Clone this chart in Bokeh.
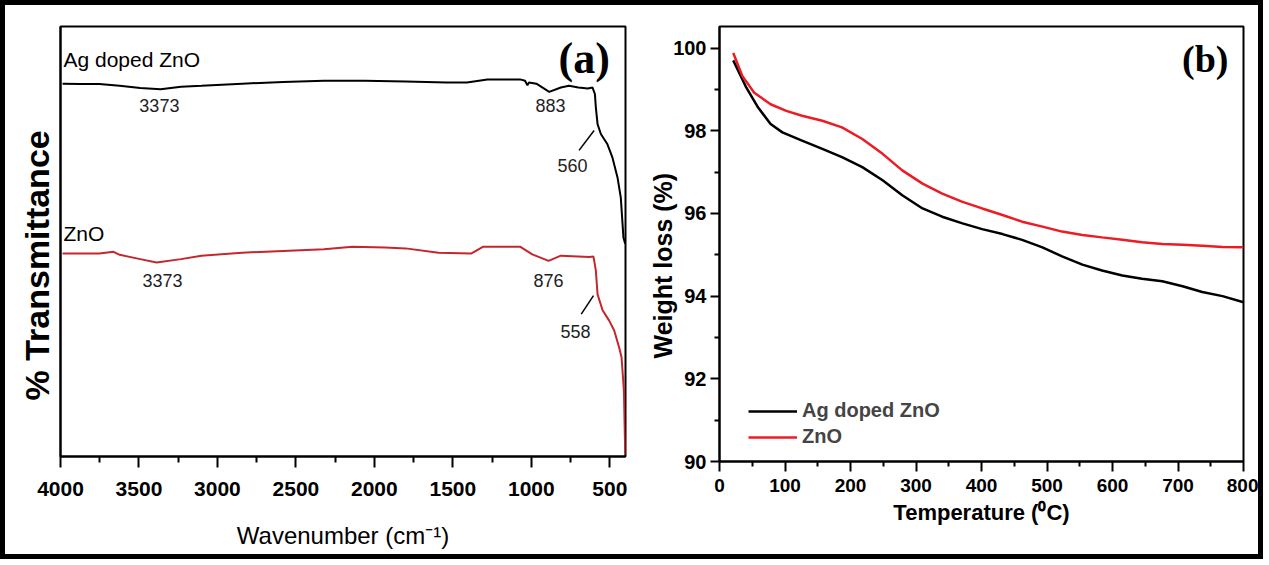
from bokeh.plotting import figure
from bokeh.layouts import row
from bokeh.models import Range1d, FixedTicker, Legend, LegendItem, Label, Title
from bokeh.core.properties import value
from bokeh.embed import file_html
from bokeh.resources import INLINE

# ---------------- (a) FTIR data ----------------
ftir_ag_wn = [3987, 3870, 3753, 3623, 3492, 3362, 3232, 3102, 2842, 2581, 2321, 2061,
              1801, 1540, 1410, 1280, 1072, 1040, 1025, 1015, 968, 886, 812, 760,
              700, 640, 610, 595, 589, 578, 557, 515, 483, 451, 430, 413, 402]
ftir_ag_t = [86.7, 86.6, 86.6, 86.2, 85.7, 85.4, 86.0, 86.2, 86.7, 87.1, 87.4, 87.4,
             87.2, 87.0, 87.0, 87.7, 87.7, 87.4, 86.3, 87.0, 86.7, 84.8, 85.8, 86.2,
             85.8, 85.6, 85.8, 84.3, 81.2, 77.3, 75.0, 72.6, 69.5, 64.9, 60.2, 50.9, 49.5]

ftir_zno_wn = [3987, 3753, 3662, 3623, 3492, 3388, 3232, 3102, 2842, 2581, 2321, 2139,
               1931, 1801, 1592, 1384, 1306, 1072, 994, 890, 812, 630, 604, 589,
               578, 546, 504, 472, 440, 425, 410, 404, 401]
ftir_zno_t = [47.2, 47.2, 47.6, 46.9, 45.9, 45.1, 45.9, 46.7, 47.4, 47.8, 48.2, 48.8,
              48.6, 48.4, 47.4, 47.2, 48.8, 48.8, 47.0, 45.5, 46.7, 46.4, 46.5, 43.3,
              37.7, 34.0, 31.6, 29.3, 25.3, 23.0, 15.3, 4.4, 0.5]

ftir_ticks = [4000, 3500, 3000, 2500, 2000, 1500, 1000, 500]
ftir_minor = [3750, 3250, 2750, 2250, 1750, 1250, 750]

peak_text = ["3373", "883", "560", "3373", "876", "558"]
peak_wn = [3370, 878, 738, 3350, 890, 718]
peak_t = [81.6, 81.6, 67.7, 40.9, 40.9, 29.1]

arrow_wn0 = [696, 682]
arrow_t0 = [71.2, 33.1]
arrow_wn1 = [600, 604]
arrow_t1 = [75.8, 37.4]

series_text = ["Ag doped ZnO", "ZnO"]
series_wn = [3981, 3981]
series_t = [92.3, 51.9]

# ---------------- (b) TGA data ----------------
tga_ag_temp = [21, 41, 59, 78, 96, 126, 157, 187, 218, 249, 279, 310, 340, 371,
               401, 432, 462, 493, 523, 554, 584, 615, 645, 676, 707, 737, 768, 800]
tga_ag_w = [99.70, 99.04, 98.56, 98.16, 97.96, 97.76, 97.56, 97.36, 97.12, 96.80,
            96.44, 96.12, 95.92, 95.76, 95.62, 95.50, 95.36, 95.18, 94.96, 94.76,
            94.62, 94.50, 94.42, 94.36, 94.24, 94.10, 94.00, 93.85]
tga_zno_temp = [21, 35, 53, 78, 102, 126, 157, 187, 218, 249, 279, 310, 340, 371,
                401, 432, 462, 493, 523, 554, 584, 615, 645, 676, 707, 737, 768, 800]
tga_zno_w = [99.88, 99.32, 98.92, 98.64, 98.48, 98.36, 98.24, 98.08, 97.80, 97.44,
             97.04, 96.72, 96.48, 96.28, 96.12, 95.96, 95.80, 95.68, 95.56, 95.48,
             95.42, 95.36, 95.30, 95.26, 95.24, 95.22, 95.19, 95.18]
tga_xticks = [0, 100, 200, 300, 400, 500, 600, 700, 800]
tga_xminor = [50, 150, 250, 350, 450, 550, 650, 750]
tga_yticks = [90, 92, 94, 96, 98, 100]
tga_yminor = [91, 93, 95, 97, 99]

SANS = "'Liberation Sans', Arial, sans-serif"
SERIF = "'Liberation Serif', 'Times New Roman', serif"
RED_A = "#c4262c"
RED_B = "#ec1c24"


def style_axes(p):
    p.grid.visible = False
    p.outline_line_color = "black"
    p.outline_line_width = 2
    p.background_fill_color = "white"
    p.border_fill_color = "white"
    for ax in (p.xaxis[0], p.yaxis[0]):
        ax.axis_line_width = 2
        ax.axis_line_color = "black"
        ax.major_tick_line_width = 2
        ax.minor_tick_line_width = 2
        ax.major_tick_in = 0
        ax.minor_tick_in = 0
        ax.major_label_text_color = "black"
        ax.axis_label_text_color = "black"
        ax.axis_label_text_font_style = "normal"


# ---------------- panel (a) ----------------
p1 = figure(frame_width=565, frame_height=430, x_range=Range1d(4000, 400),
            y_range=Range1d(0, 100), output_backend="svg", toolbar_location=None,
            min_border_left=55, min_border_right=12, min_border_top=21,
            min_border_bottom=98)
style_axes(p1)
p1.xaxis.ticker = FixedTicker(ticks=ftir_ticks, minor_ticks=ftir_minor)
p1.xaxis.major_tick_out = 11
p1.xaxis.minor_tick_out = 6
p1.xaxis.major_label_standoff = 14
p1.xaxis.major_label_text_font = SANS
p1.xaxis.major_label_text_font_style = "bold"
p1.xaxis.major_label_text_font_size = "21px"
p1.xaxis.axis_label = "Wavenumber (cm\u207b\u00b9)"
p1.xaxis.axis_label_text_font = SANS
p1.xaxis.axis_label_text_font_size = "24px"
p1.xaxis.axis_label_standoff = 23
p1.yaxis.ticker = FixedTicker(ticks=[])
p1.yaxis.major_tick_out = 0
p1.yaxis.minor_tick_out = 0
p1.add_layout(Title(text="% Transmittance", align="left", offset=56,
                    vertical_align="bottom", standoff=10, text_font=SANS,
                    text_font_style="bold", text_font_size="34px",
                    text_color="black"), "left")

p1.line(ftir_ag_wn, ftir_ag_t, line_color="black", line_width=2)
p1.line(ftir_zno_wn, ftir_zno_t, line_color=RED_A, line_width=2)
p1.text(x=peak_wn, y=peak_t, text=peak_text, text_align="center",
        text_baseline="middle", text_font=value(SANS), text_font_size="18px",
        text_color="#222222")
p1.segment(x0=arrow_wn0, y0=arrow_t0, x1=arrow_wn1, y1=arrow_t1,
           line_color="black", line_width=1.5)
p1.text(x=series_wn, y=series_t, text=series_text, text_align="left",
        text_baseline="middle", text_font=value(SANS), text_font_size="21px",
        text_color="black")
p1.add_layout(Label(x=500, y=92.6, text="(a)", text_align="right",
                    text_baseline="middle", text_font=SERIF,
                    text_font_style="bold", text_font_size="44px",
                    text_color="black"))

# ---------------- panel (b) ----------------
p2 = figure(frame_width=524, frame_height=435, x_range=Range1d(0, 800),
            y_range=Range1d(90, 100.52), output_backend="svg",
            toolbar_location=None, min_border_left=82, min_border_right=15,
            min_border_top=17, min_border_bottom=97)
style_axes(p2)
p2.xaxis.ticker = FixedTicker(ticks=tga_xticks, minor_ticks=tga_xminor)
p2.yaxis.ticker = FixedTicker(ticks=tga_yticks, minor_ticks=tga_yminor)
p2.xaxis.major_tick_out = 10
p2.xaxis.minor_tick_out = 5
p2.yaxis.major_tick_out = 9
p2.yaxis.minor_tick_out = 5
p2.xaxis.major_label_standoff = 7
p2.yaxis.major_label_standoff = 4
for ax in (p2.xaxis[0], p2.yaxis[0]):
    ax.major_label_text_font = SANS
    ax.major_label_text_font_style = "bold"
    ax.major_label_text_font_size = "20px"
    ax.axis_label_text_font = SANS
    ax.axis_label_text_font_style = "bold"
p2.xaxis.major_label_text_font_size = "19px"
p2.xaxis.axis_label = "Temperature (\u2070C)"
p2.xaxis.axis_label_text_font_size = "22px"
p2.xaxis.axis_label_standoff = 5
ytitle = Title(text="Weight loss (%)", align="left", offset=103,
               vertical_align="bottom", standoff=0, text_font=SANS,
               text_font_style="bold", text_font_size="25px",
               text_color="black")
try:
    ytitle.standoff = -12
except Exception:
    ytitle.standoff = 0
p2.add_layout(ytitle, "left")

r_ag = p2.line(tga_ag_temp, tga_ag_w, line_color="black", line_width=2.5)
r_zno = p2.line(tga_zno_temp, tga_zno_w, line_color=RED_B, line_width=2.5)
legend = Legend(items=[LegendItem(label=series_text[0], renderers=[r_ag]),
                       LegendItem(label=series_text[1], renderers=[r_zno])],
                location=(29, 13), glyph_width=49, glyph_height=20,
                label_height=20, spacing=3, padding=0, margin=0,
                label_standoff=5, border_line_color=None,
                background_fill_alpha=0, label_text_font=SANS,
                label_text_font_style="bold", label_text_font_size="20px")
p2.add_layout(legend)
p2.add_layout(Label(x=777, y=99.73, text="(b)", text_align="right",
                    text_baseline="middle", text_font=SERIF,
                    text_font_style="bold", text_font_size="38px",
                    text_color="black"))

layout = row(p1, p2, styles={"border": "5px solid black"})
open("out.html", "w").write(file_html(layout, INLINE))
